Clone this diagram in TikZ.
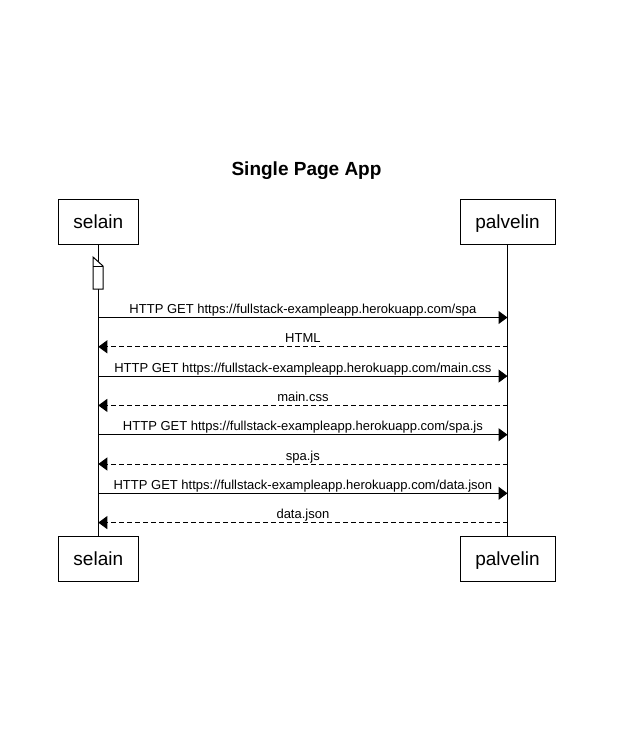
\documentclass[tikz,border=0pt]{standalone}
\usepackage{fontspec}
\setmainfont{Liberation Sans}
\usetikzlibrary{arrows.meta}

\begin{document}
\begin{tikzpicture}[x=1pt,y=-1pt,line width=1pt,
    actor/.style={draw,fill=white,minimum height=45pt,inner sep=0pt,text height=13pt,text depth=0pt,font=\fontsize{19}{21}\selectfont},
    msg/.style={-{Triangle[length=9pt,width=13pt]}},
    reply/.style={msg,dash pattern=on 5pt off 3pt},
    lbl/.style={anchor=base,inner sep=0pt,yshift=4pt,font=\fontsize{13}{15}\selectfont}]
    \useasboundingbox (0,0) rectangle (618,744);

    % Title %
    \node[anchor=base,font=\bfseries\fontsize{19}{21}\selectfont] (title) at (306.5,175) {Single Page App};

    % Participants %
    \node[actor,minimum width=80pt] (selainTop) at (98.3,221.5) {selain};
    \node[actor,minimum width=95pt] (palvelinTop) at (507.5,221.5) {palvelin};
    \node[actor,minimum width=80pt] (selainBot) at (98.3,558.8) {selain};
    \node[actor,minimum width=95pt] (palvelinBot) at (507.5,558.8) {palvelin};
    \draw (selainTop) -- (selainBot);
    \draw (palvelinTop) -- (palvelinBot);

    % Note %
    \draw[fill=white] (93,257) -- (103,266) -- (103,289) -- (93,289) -- cycle;
    \draw (93,266) -- (103,266);

    % Messages %
    \draw[msg] (selainTop |- 0,317.5) -- node[lbl] {HTTP GET https://fullstack-exampleapp.herokuapp.com/spa} (palvelinTop |- 0,317.5);
    \draw[reply] (palvelinTop |- 0,346.8) -- node[lbl] {HTML} (selainTop |- 0,346.8);
    \draw[msg] (selainTop |- 0,376.1) -- node[lbl] {HTTP GET https://fullstack-exampleapp.herokuapp.com/main.css} (palvelinTop |- 0,376.1);
    \draw[reply] (palvelinTop |- 0,405.4) -- node[lbl] {main.css} (selainTop |- 0,405.4);
    \draw[msg] (selainTop |- 0,434.7) -- node[lbl] {HTTP GET https://fullstack-exampleapp.herokuapp.com/spa.js} (palvelinTop |- 0,434.7);
    \draw[reply] (palvelinTop |- 0,464) -- node[lbl] {spa.js} (selainTop |- 0,464);
    \draw[msg] (selainTop |- 0,493.3) -- node[lbl] {HTTP GET https://fullstack-exampleapp.herokuapp.com/data.json} (palvelinTop |- 0,493.3);
    \draw[reply] (palvelinTop |- 0,522.6) -- node[lbl] {data.json} (selainTop |- 0,522.6);
\end{tikzpicture}
\end{document}
